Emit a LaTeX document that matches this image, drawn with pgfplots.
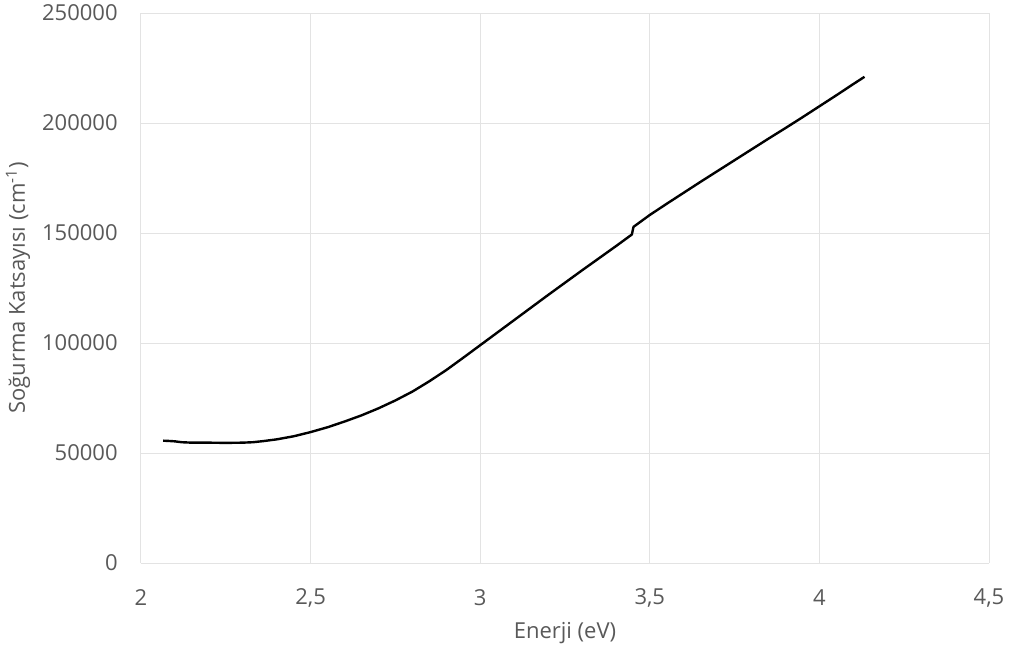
\documentclass[border=0pt]{standalone}
\usepackage{pgfplots}
\pgfplotsset{compat=1.18}
\usepackage{fontspec}
\setmainfont{Open Sans}
\definecolor{txt}{HTML}{595959}
\definecolor{gridc}{HTML}{E3E3E3}
\begin{document}
\begin{tikzpicture}
\useasboundingbox (-70.5pt,-45.5pt) rectangle (436pt,281.5pt);
\begin{axis}[
  at={(0,0)}, anchor=south west,
  scale only axis, width=424pt, height=275pt,
  xmin=2, xmax=4.5, ymin=0, ymax=250000,
  xtick={2,2.5,3,3.5,4,4.5}, ytick={0,50000,100000,150000,200000,250000},
  grid=major, major grid style={draw=gridc, line width=0.5pt},
  axis line style={draw=none}, tick style={draw=none},
  scaled y ticks=false,
  /pgf/number format/assume math mode=true,
  /pgf/number format/fixed,
  /pgf/number format/precision=2,
  /pgf/number format/use comma,
  /pgf/number format/1000 sep={},
  ticklabel style={font=\fontsize{11}{13}\selectfont, text=txt},
  xticklabel style={anchor=center, yshift=-17.5pt},
  yticklabel style={anchor=east, inner sep=0pt, xshift=-11.5pt},
  label style={font=\fontsize{11}{13}\selectfont, text=txt},
  xlabel={Enerji (eV)},
  xlabel style={at={(axis description cs:0.5,0)}, anchor=center, yshift=-35pt},
  ylabel={Soğurma Katsayısı (cm\textsuperscript{-1})},
  ylabel style={at={(axis description cs:-0.145,0.5)}, anchor=center},
]
\addplot[black, line width=1.2pt, line join=round] coordinates {
(2.065,55600) (2.08,55500) (2.1,55300) (2.12,54900) (2.15,54700) (2.2,54700)
(2.25,54600) (2.3,54700) (2.33,54900) (2.36,55400) (2.4,56200) (2.45,57600)
(2.5,59500) (2.55,61700) (2.6,64300) (2.65,67100) (2.7,70300) (2.75,73900)
(2.8,77900) (2.85,82600) (2.9,87700) (2.95,93300) (3.0,99000) (3.05,104700)
(3.1,110400) (3.15,116100) (3.2,121800) (3.25,127400) (3.3,133000) (3.35,138500)
(3.4,144000) (3.447,149300) (3.452,152800) (3.5,158200) (3.55,163300) (3.6,168300)
(3.65,173300) (3.7,178200) (3.75,183100) (3.8,188000) (3.85,192900) (3.9,197700)
(3.95,202600) (4.0,207600) (4.05,212600) (4.1,217700) (4.133,221000)
};
\end{axis}
\end{tikzpicture}
\end{document}
